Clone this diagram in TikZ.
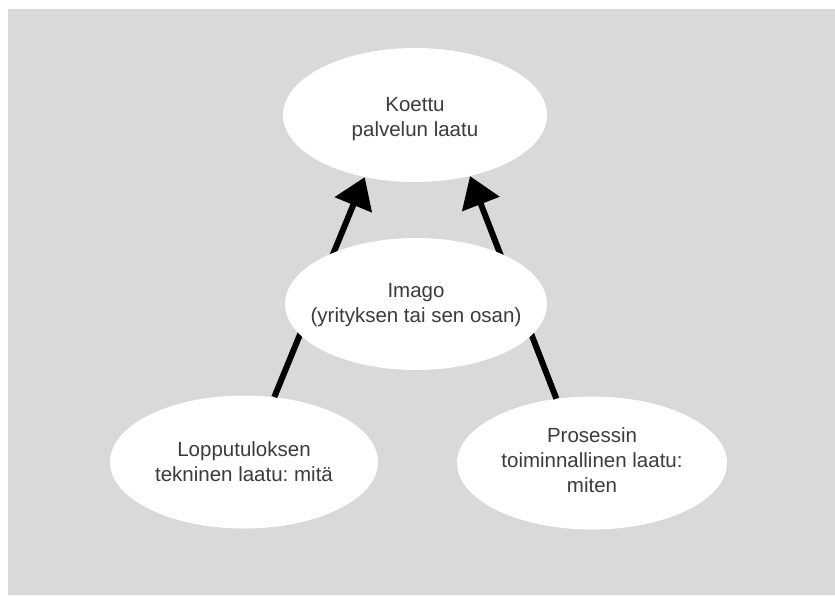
\documentclass[tikz,border=0pt]{standalone}
\usepackage{fontspec}
\setmainfont{Liberation Sans}
\usetikzlibrary{shapes.geometric,arrows.meta}
\definecolor{bggray}{HTML}{D9D9D9}
\definecolor{txtgray}{HTML}{3C3C3C}
\frenchspacing
\tikzset{
  oval/.style={ellipse, fill=white, draw=none, inner sep=0pt},
  lbl/.style={align=center, inner sep=0pt, text=txtgray, font=\fontsize{20.5}{25}\selectfont},
  arr/.style={line width=6pt, -{Triangle[length=30pt,width=39pt]}, black}
}
\begin{document}
\begin{tikzpicture}[x=1pt,y=-1pt]
\useasboundingbox (0,0) rectangle (835,595);
\fill[bggray] (8,9) rectangle (835,595);
\node[oval, minimum width=264pt, minimum height=134pt] (top) at (415,115) {};
\node[lbl] (toptext) at (415,119) {Koettu\\palvelun laatu};
\node[oval, minimum width=268pt, minimum height=133pt] (bl) at (244,462) {};
\node[lbl] (bltext) at (244,462) {Lopputuloksen\\tekninen laatu: mitä};
\node[oval, minimum width=270pt, minimum height=133pt] (br) at (592,463) {};
\node[lbl] (brtext) at (592,460) {Prosessin\\toiminnallinen laatu:\\miten};
\draw[arr] (bl.65.6) -- (top.231);
\draw[arr] (br.119.4) -- (top.312.8);
\node[oval, minimum width=262pt, minimum height=132pt] (mid) at (416,304) {};
\node[lbl] (midtext) at (416,305) {Imago\\(yrityksen tai sen osan)};
\end{tikzpicture}
\end{document}
